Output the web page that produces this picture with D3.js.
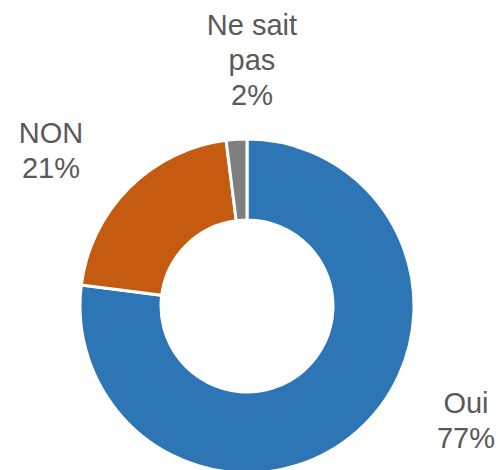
<!DOCTYPE html>
<html>
<head>
<meta charset="utf-8">
<script src="https://cdn.jsdelivr.net/npm/d3@7"></script>
<style>
  body { margin: 0; background: #fff; }
  svg { display: block; }
</style>
</head>
<body>
<div class="chart"></div>
<script>
var categories = ["Oui", "NON", "Ne sait pas"];
var values = [77, 21, 2];
var labelLines = [["Oui", "77%"], ["NON", "21%"], ["Ne sait", "pas", "2%"]];

var width = 498, height = 470;
var cx = 247, cy = 306;
var outerR = 167, innerR = 86;

var colors = d3.scaleOrdinal().domain(categories).range(["#2E75B6", "#C55A11", "#7F7F7F"]);

// where each label block sits (center x, first baseline y)
var labelPos = [[466, 413], [51, 143], [252, 35]];

var svg = d3.select(".chart").append("svg")
  .attr("width", width)
  .attr("height", height);

var pie = d3.pie().sort(null).value(function(d) { return d; });
var arc = d3.arc().innerRadius(innerR).outerRadius(outerR);

var g = svg.append("g").attr("transform", "translate(" + cx + "," + cy + ")");

g.selectAll("path")
  .data(pie(values))
  .enter().append("path")
    .attr("d", arc)
    .attr("fill", function(d, i) { return colors(categories[i]); })
    .attr("stroke", "#fff")
    .attr("stroke-width", 3)
    .attr("stroke-linejoin", "miter");

var labels = svg.selectAll("text.lbl")
  .data(labelLines)
  .enter().append("text")
    .attr("class", "lbl")
    .attr("text-anchor", "middle")
    .attr("font-family", "'Liberation Sans', Arial, sans-serif")
    .attr("font-size", "29px")
    .attr("fill", "#595959");

labels.each(function(lines, i) {
  var t = d3.select(this);
  lines.forEach(function(line, j) {
    t.append("tspan")
      .attr("x", labelPos[i][0])
      .attr("y", labelPos[i][1] + j * 35)
      .text(line);
  });
});
</script>
</body>
</html>
